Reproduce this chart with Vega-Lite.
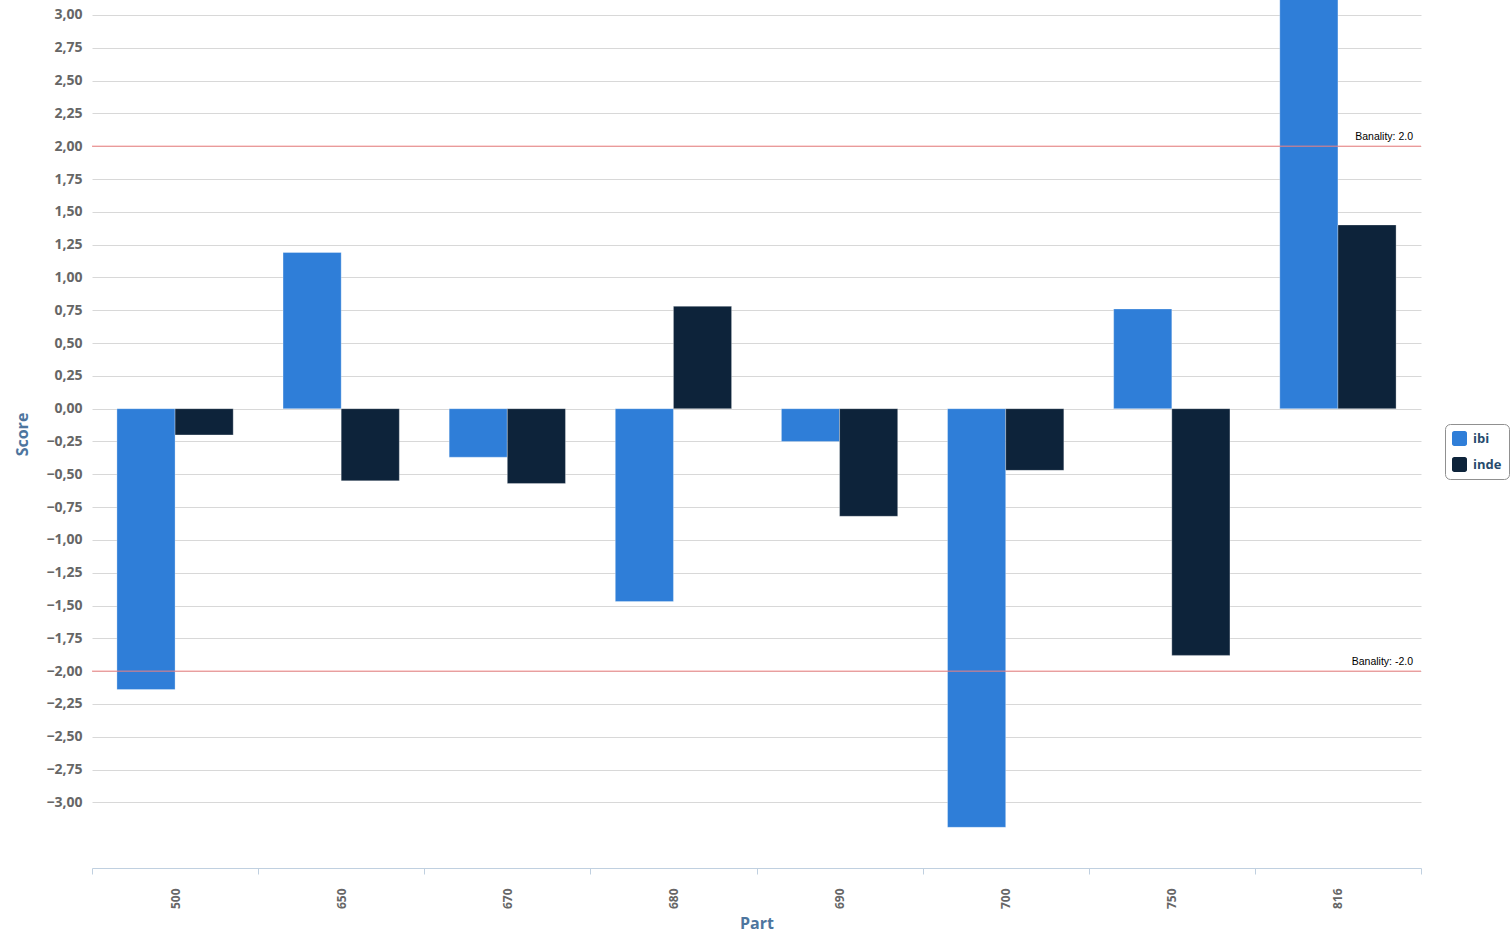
{
  "$schema": "https://vega.github.io/schema/vega-lite/v6.json",
  "autosize": "none",
  "width": 1329,
  "height": 868,
  "padding": {"left": 92, "top": 0, "right": 89, "bottom": 66},
  "background": "white",
  "config": {
    "view": {"stroke": null},
    "locale": {"number": {"decimal": ",", "thousands": ".", "grouping": [3], "currency": ["", "€"], "minus": "\u2212"}},
    "axis": {"labelFont": "Open Sans", "labelFontWeight": "bold", "labelColor": "#666666", "labelFontSize": 14, "titleFont": "Open Sans", "titleFontWeight": "bold", "titleColor": "#4d759e", "titleFontSize": 16}
  },
  "datasets": {
    "bars": [
      {"part": "500", "series": "ibi", "score": -2.14},
      {"part": "500", "series": "inde", "score": -0.2},
      {"part": "650", "series": "ibi", "score": 1.19},
      {"part": "650", "series": "inde", "score": -0.55},
      {"part": "670", "series": "ibi", "score": -0.37},
      {"part": "670", "series": "inde", "score": -0.57},
      {"part": "680", "series": "ibi", "score": -1.47},
      {"part": "680", "series": "inde", "score": 0.78},
      {"part": "690", "series": "ibi", "score": -0.25},
      {"part": "690", "series": "inde", "score": -0.82},
      {"part": "700", "series": "ibi", "score": -3.19},
      {"part": "700", "series": "inde", "score": -0.47},
      {"part": "750", "series": "ibi", "score": 0.76},
      {"part": "750", "series": "inde", "score": -1.88},
      {"part": "816", "series": "ibi", "score": 3.6},
      {"part": "816", "series": "inde", "score": 1.4}
    ],
    "lines": [
      {"score": 2, "label": "Banality: 2.0"},
      {"score": -2, "label": "Banality: -2.0"}
    ]
  },
  "encoding": {
    "y": {
      "field": "score", "type": "quantitative", "title": "Score",
      "scale": {"domain": [-3.5, 3.114], "nice": false, "zero": false},
      "axis": {"values": [-3, -2.75, -2.5, -2.25, -2, -1.75, -1.5, -1.25, -1, -0.75, -0.5, -0.25, 0, 0.25, 0.5, 0.75, 1, 1.25, 1.5, 1.75, 2, 2.25, 2.5, 2.75, 3], "format": ".2f", "domain": false, "ticks": false, "labelPadding": 10, "labelOverlap": false, "gridColor": "#d8d8d8", "titlePadding": 15}
    }
  },
  "layer": [
    {
      "data": {"name": "bars"},
      "mark": {"type": "bar", "clip": true, "stroke": "#ffffff", "strokeWidth": 0.6, "strokeOpacity": 0.5},
      "encoding": {
        "x": {
          "field": "part", "type": "nominal", "title": "Part",
          "scale": {"paddingInner": 0, "paddingOuter": 0},
          "axis": {"labelAngle": -90, "labelAlign": "right", "labelBaseline": "middle", "labelPadding": 14, "tickBand": "extent", "domainColor": "#c0d0e0", "tickColor": "#c0d0e0", "tickSize": 6, "titlePadding": 7, "labelFontSize": 12}
        },
        "xOffset": {"field": "series", "type": "nominal", "scale": {"paddingInner": 0, "paddingOuter": 0.4286}},
        "color": {
          "field": "series", "type": "nominal",
          "scale": {"domain": ["ibi", "inde"], "range": ["#2f7ed8", "#0d233a"]},
          "legend": {
            "title": null, "orient": "none", "legendX": 1353, "legendY": 424,
            "symbolType": "M-0.7,-1 L0.7,-1 A0.3,0.3 0 0 1 1,-0.7 L1,0.7 A0.3,0.3 0 0 1 0.7,1 L-0.7,1 A0.3,0.3 0 0 1 -1,0.7 L-1,-0.7 A0.3,0.3 0 0 1 -0.7,-1 Z",
            "symbolSize": 225, "symbolStrokeWidth": 0,
            "labelFont": "Open Sans", "labelFontWeight": "bold", "labelFontSize": 13, "labelColor": "#274b6d",
            "rowPadding": 11, "padding": 7, "strokeColor": "#909090", "cornerRadius": 5, "fillColor": "white", "labelOffset": 6
          }
        }
      }
    },
    {
      "data": {"name": "lines"},
      "mark": {"type": "rule", "color": "#f08080", "strokeWidth": 1},
      "encoding": {}
    },
    {
      "data": {"name": "lines"},
      "mark": {"type": "text", "font": "Liberation Sans", "fontSize": 10.5, "color": "#000000", "align": "right", "baseline": "bottom", "dy": -4, "dx": -8, "x": {"expr": "width"}},
      "encoding": {"text": {"field": "label"}}
    }
  ]
}
